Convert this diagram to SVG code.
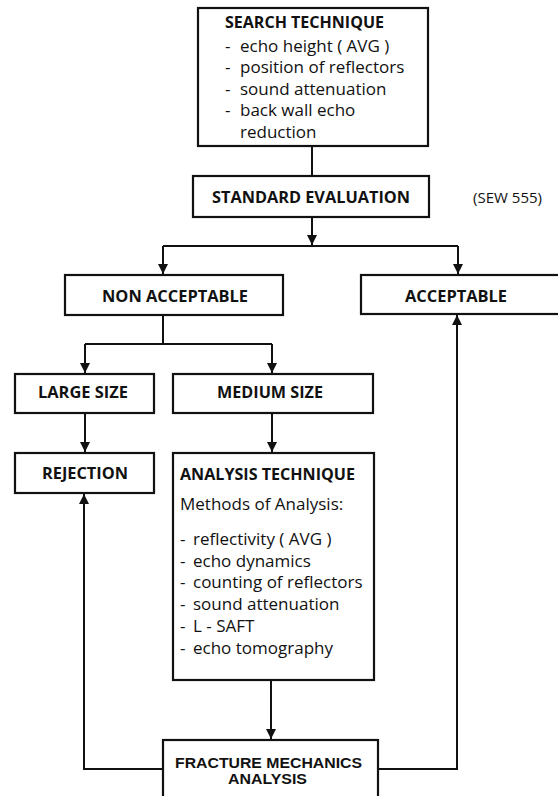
<svg xmlns="http://www.w3.org/2000/svg" width="558" height="796" viewBox="0 0 558 796">
<style>
.box{fill:#fff;stroke:#111;stroke-width:2.2}
.h{font-family:"Open Sans","Liberation Sans",sans-serif;font-weight:bold;font-size:16px;fill:#111}
.f{font-family:"Liberation Sans","Open Sans",sans-serif;font-weight:bold;font-size:14px;fill:#111}
.t{font-family:"Open Sans","Liberation Sans",sans-serif;font-size:17px;fill:#111}
.c{fill:none;stroke:#111;stroke-width:2}
</style>
<defs>
<marker id="ah" markerUnits="userSpaceOnUse" markerWidth="10" markerHeight="12" viewBox="0 0 10 12" refX="10" refY="6" orient="auto">
<path d="M0,1 L10,6 L0,11 Z" fill="#111"/>
</marker>
</defs>
<rect width="558" height="796" fill="#fff"/>
<g id="connectors">
<path class="c" d="M312,146 V176"/>
<path class="c" d="M312,217 V245" marker-end="url(#ah)"/>
<path class="c" d="M163,246 H458"/>
<path class="c" d="M163,246 V274" marker-end="url(#ah)"/>
<path class="c" d="M458,246 V274" marker-end="url(#ah)"/>
<path class="c" d="M163,315 V344"/>
<path class="c" d="M85,344 H272"/>
<path class="c" d="M85,344 V373" marker-end="url(#ah)"/>
<path class="c" d="M272,344 V373" marker-end="url(#ah)"/>
<path class="c" d="M85,413 V452" marker-end="url(#ah)"/>
<path class="c" d="M272,413 V452" marker-end="url(#ah)"/>
<path class="c" d="M271,680 V739" marker-end="url(#ah)"/>
<path class="c" d="M163,769 H84 V494" marker-end="url(#ah)"/>
<path class="c" d="M378,769 H457 V315" marker-end="url(#ah)"/>
</g>
<g id="search">
<rect class="box" x="198" y="8" width="230" height="138"/>
<text class="h" x="225" y="28" textLength="159" lengthAdjust="spacingAndGlyphs">SEARCH TECHNIQUE</text>
<text class="t" x="225" y="52">-</text><text class="t" x="240" y="52">echo height ( AVG )</text>
<text class="t" x="225" y="73">-</text><text class="t" x="240" y="73">position of reflectors</text>
<text class="t" x="225" y="95">-</text><text class="t" x="240" y="95">sound attenuation</text>
<text class="t" x="225" y="116">-</text><text class="t" x="240" y="116">back wall echo</text>
<text class="t" x="240" y="138">reduction</text>
</g>
<g id="standard">
<rect class="box" x="193" y="176" width="236" height="41"/>
<text class="h" x="212" y="203" textLength="198" lengthAdjust="spacingAndGlyphs">STANDARD EVALUATION</text>
</g>
<g id="sew">
<text class="t" x="473" y="203" style="font-size:14px" textLength="69" lengthAdjust="spacingAndGlyphs">(SEW 555)</text>
</g>
<g id="nonacceptable">
<rect class="box" x="65" y="275" width="218" height="40"/>
<text class="h" x="102" y="302" textLength="146" lengthAdjust="spacingAndGlyphs">NON ACCEPTABLE</text>
</g>
<g id="acceptable">
<rect class="box" x="361" y="275" width="210" height="39"/>
<text class="h" x="405" y="302" textLength="102" lengthAdjust="spacingAndGlyphs">ACCEPTABLE</text>
</g>
<g id="large">
<rect class="box" x="15" y="374" width="139" height="39"/>
<text class="h" x="38" y="398" textLength="90" lengthAdjust="spacingAndGlyphs">LARGE SIZE</text>
</g>
<g id="medium">
<rect class="box" x="173" y="374" width="200" height="39"/>
<text class="h" x="217" y="398" textLength="106" lengthAdjust="spacingAndGlyphs">MEDIUM SIZE</text>
</g>
<g id="rejection">
<rect class="box" x="15" y="453" width="139" height="40"/>
<text class="h" x="42" y="479" textLength="86" lengthAdjust="spacingAndGlyphs">REJECTION</text>
</g>
<g id="analysis">
<rect class="box" x="173" y="453" width="201" height="227"/>
<text class="h" x="180" y="480" textLength="175" lengthAdjust="spacingAndGlyphs">ANALYSIS TECHNIQUE</text>
<text class="t" x="180" y="510">Methods of Analysis:</text>
<text class="t" x="180" y="545">-</text><text class="t" x="193" y="545">reflectivity ( AVG )</text>
<text class="t" x="180" y="567">-</text><text class="t" x="193" y="567">echo dynamics</text>
<text class="t" x="180" y="588">-</text><text class="t" x="193" y="588">counting of reflectors</text>
<text class="t" x="180" y="610">-</text><text class="t" x="193" y="610">sound attenuation</text>
<text class="t" x="180" y="632">-</text><text class="t" x="193" y="632">L - SAFT</text>
<text class="t" x="180" y="654">-</text><text class="t" x="193" y="654">echo tomography</text>
</g>
<g id="fracture">
<rect class="box" x="163" y="740" width="215" height="70"/>
<text class="f" x="175" y="768" textLength="187" lengthAdjust="spacingAndGlyphs">FRACTURE MECHANICS</text>
<text class="f" x="228" y="784" textLength="79" lengthAdjust="spacingAndGlyphs">ANALYSIS</text>
</g>
</svg>
